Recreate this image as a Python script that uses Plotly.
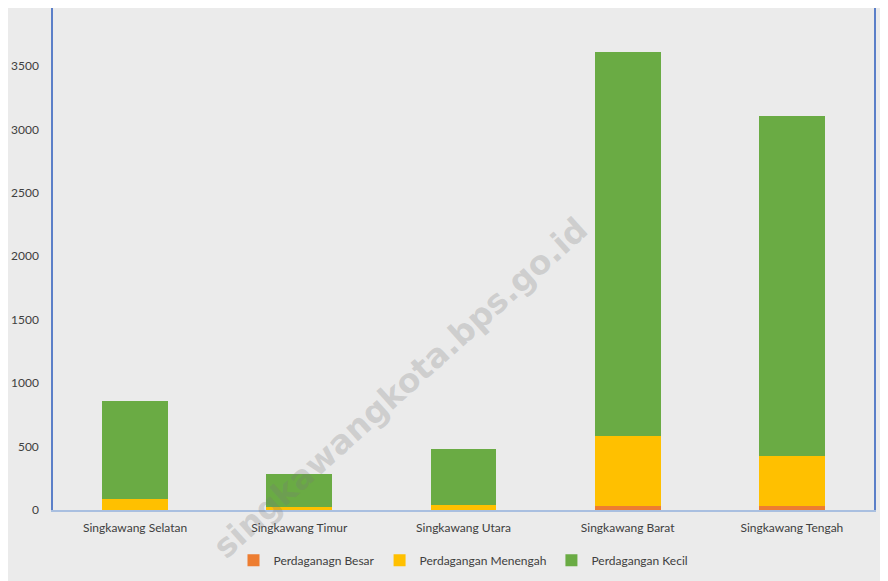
import plotly.graph_objects as go

categories = ["Singkawang Selatan", "Singkawang Timur", "Singkawang Utara",
              "Singkawang Barat", "Singkawang Tengah"]
besar = [2, 1, 2, 35, 30]
menengah = [85, 23, 37, 550, 395]
kecil = [772, 262, 442, 3024, 2680]
y_ticks = [0, 500, 1000, 1500, 2000, 2500, 3000, 3500, 4000]

fig = go.Figure()
fig.add_trace(go.Bar(name="Perdaganagn Besar", x=categories, y=besar,
                     marker=dict(color="#ed7d31", line=dict(width=0))))
fig.add_trace(go.Bar(name="Perdagangan Menengah", x=categories, y=menengah,
                     marker=dict(color="#ffc000", line=dict(width=0))))
fig.add_trace(go.Bar(name="Perdagangan Kecil", x=categories, y=kecil,
                     marker=dict(color="#6aab44", line=dict(width=0))))

fig.update_layout(
    barmode="stack",
    bargap=0.6,
    width=888, height=581,
    margin=dict(l=45, r=22, t=0, b=79, autoexpand=False),
    paper_bgcolor="#ebebeb",
    plot_bgcolor="#ebebeb",
    font=dict(family="Lato, Carlito, sans-serif", size=12, color="#404040"),
    showlegend=True,
    legend=dict(orientation="h", x=0.5, xanchor="center", y=-0.1, yanchor="middle",
                font=dict(size=12, color="#404040"), bgcolor="rgba(0,0,0,0)",
                traceorder="normal", itemwidth=30),
    xaxis=dict(showgrid=False, showline=True, linecolor="#a9bfe0", linewidth=2,
               ticks="outside", ticklen=6, tickcolor="rgba(0,0,0,0)",
               tickfont=dict(size=12), automargin=False),
    yaxis=dict(range=[0, 3957], tickvals=y_ticks, showgrid=False,
               showline=True, linecolor="#5b7fc8", linewidth=1.5, mirror=True,
               ticks="outside", ticklen=10, tickcolor="rgba(0,0,0,0)",
               zeroline=False, tickfont=dict(size=12), automargin=False),
    annotations=[dict(text="singkawangkota.bps.go.id", xref="paper", yref="paper",
                      x=0.423, y=0.245,
                      xanchor="center", yanchor="middle",
                      showarrow=False, textangle=-42,
                      font=dict(family="DejaVu Sans, sans-serif", size=33, weight="bold",
                                color="rgba(120,120,120,0.25)"))],
)

fig.write_html("out.html")
